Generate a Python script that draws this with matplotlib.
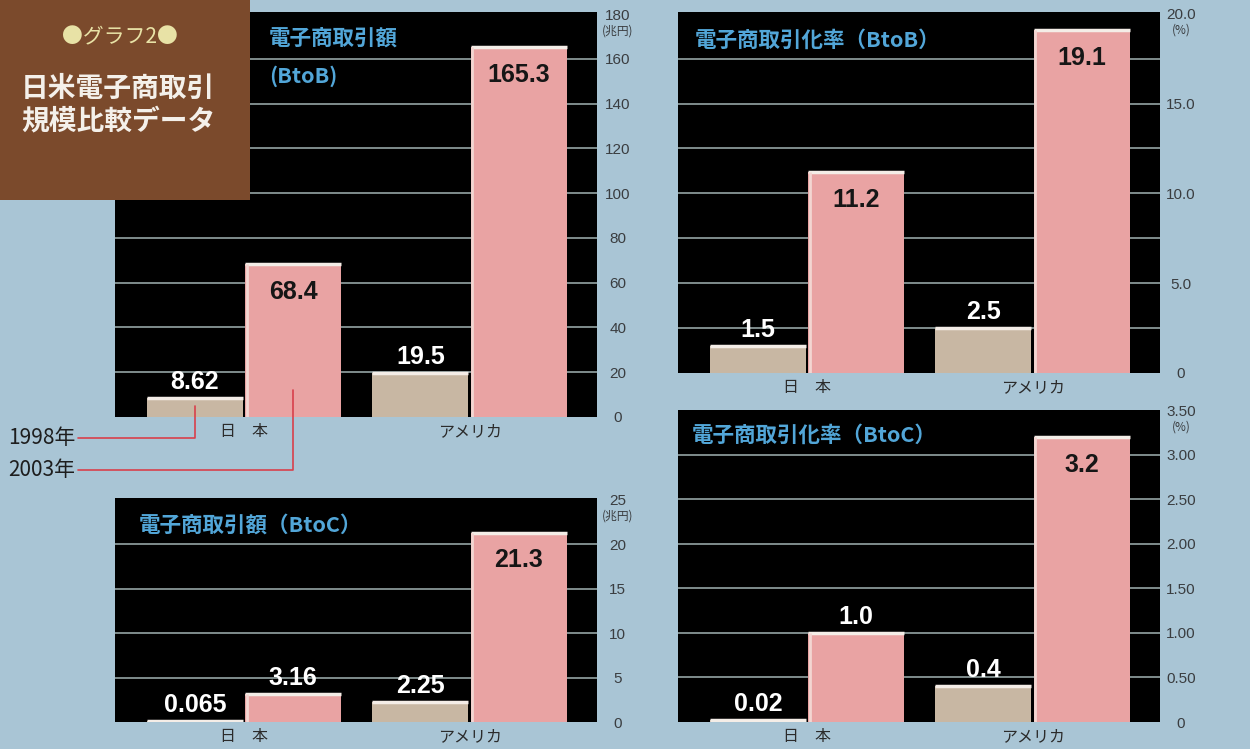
import matplotlib
matplotlib.use("Agg")
import matplotlib.pyplot as plt
from matplotlib.patches import Rectangle

plt.rcParams['font.family'] = ['Liberation Sans', 'Noto Sans CJK JP', 'DejaVu Sans']

# data
countries = ["日　本", "アメリカ"]
years = ["1998年", "2003年"]

btob_amount_1998 = [8.62, 19.5]      # 兆円
btob_amount_2003 = [68.4, 165.3]
btob_rate_1998 = [1.5, 2.5]          # %
btob_rate_2003 = [11.2, 19.1]
btoc_amount_1998 = [0.065, 2.25]     # 兆円
btoc_amount_2003 = [3.16, 21.3]
btoc_rate_1998 = [0.02, 0.4]         # %
btoc_rate_2003 = [1.0, 3.2]

btob_amount_ticks = [0, 20, 40, 60, 80, 100, 120, 140, 160, 180]
btob_rate_ticks = [0, 5, 10, 15, 20]
btob_rate_ticklabels = ["0", "5.0", "10.0", "15.0", "20.0"]
btoc_amount_ticks = [0, 5, 10, 15, 20, 25]
btoc_rate_ticks = [0, 0.5, 1.0, 1.5, 2.0, 2.5, 3.0, 3.5]
btoc_rate_ticklabels = ["0", "0.50", "1.00", "1.50", "2.00", "2.50", "3.00", "3.50"]

BG = '#a9c5d5'
TAN = '#c8b7a3'
PINK = '#e9a3a3'
TITLE_BLUE = '#52a6d8'
GRID = '#7f8c8c'
W, H = 1250, 749

fig = plt.figure(figsize=(W / 100, H / 100), dpi=100, facecolor=BG)


def panel(rect, v98, v03, ymax, ticks, ticklabels, grid, unit, title, title_xy):
    ax = fig.add_axes(rect)
    ax.set_facecolor('black')
    for s in ax.spines.values():
        s.set_visible(False)
    xlim = (-0.572, 1.565)
    ax.set_xlim(*xlim)
    ax.set_ylim(0, ymax)
    # grid lines
    ax.hlines(grid, xlim[0], xlim[1], color=GRID, lw=1.4, zorder=1)
    w, off = 0.425, 0.218
    x = [0, 1]
    x98 = [i - off for i in x]
    x03 = [i + off for i in x]
    ax.bar(x98, v98, width=w, color=TAN, zorder=2)
    ax.bar(x03, v03, width=w, color=PINK, zorder=2)
    # light top edges like the printed bars
    for xs, vs in ((x98, v98), (x03, v03)):
        for xi, vi in zip(xs, vs):
            ax.hlines(vi, xi - w / 2, xi + w / 2, color='#f4ede7', lw=2.5, zorder=3)
    for xi, vi in zip(x03, v03):
        ax.vlines(xi - w / 2 + 0.006, 0, vi, color='#f3d6d2', lw=2, zorder=3)
    # value labels
    for xs, vs in ((x98, v98), (x03, v03)):
        for xi, vi in zip(xs, vs):
            if vi / ymax > 0.33:
                ax.annotate(str(vi), (xi, vi), xytext=(0, -20), textcoords='offset points',
                            ha='center', va='center', fontsize=18, fontweight='bold',
                            color='#161616', zorder=4)
            else:
                ax.annotate(str(vi), (xi, vi), xytext=(0, 11.5), textcoords='offset points',
                            ha='center', va='center', fontsize=18, fontweight='bold',
                            color='white', zorder=4)
    # axes ticks
    ax.set_xticks(x, countries)
    ax.tick_params(axis='x', length=0, pad=5, labelsize=11.5, labelcolor='#2b2b2b')
    ax.yaxis.tick_right()
    ax.set_yticks(ticks, ticklabels)
    ax.tick_params(axis='y', length=0, pad=15, labelsize=11, labelcolor='#3a3d40')
    for lab in ax.get_yticklabels():
        lab.set_ha('center')
    ax.annotate(unit, (1, ticks[-1]), xycoords=ax.get_yaxis_transform(),
                xytext=(15, -12), textcoords='offset points', ha='center', va='center',
                fontsize=8.5, color='#3a3d40', family=['Noto Sans CJK JP'])
    ax.text(title_xy[0], title_xy[1], title, transform=ax.transAxes, ha='left', va='center',
            fontsize=15.5, fontweight='bold', color=TITLE_BLUE, family=['Noto Sans CJK JP'],
            linespacing=1.9)
    return ax


ax1 = panel([115 / W, 1 - 417 / H, 482 / W, 405 / H], btob_amount_1998, btob_amount_2003,
            181, btob_amount_ticks, [str(t) for t in btob_amount_ticks],
            btob_amount_ticks[1:-1], "(兆円)", "電子商取引額\n(BtoB)", (0.32, 0.888))
ax2 = panel([678 / W, 1 - 373 / H, 482 / W, 361 / H], btob_rate_1998, btob_rate_2003,
            20.1, btob_rate_ticks, btob_rate_ticklabels,
            [2.5, 5, 7.5, 10, 12.5, 15, 17.5], "(%)", "電子商取引化率（BtoB）", (0.035, 0.922))
ax3 = panel([115 / W, 1 - 722 / H, 482 / W, 224 / H], btoc_amount_1998, btoc_amount_2003,
            25.2, btoc_amount_ticks, [str(t) for t in btoc_amount_ticks],
            btoc_amount_ticks[1:-1], "(兆円)", "電子商取引額（BtoC）", (0.05, 0.88))
ax4 = panel([678 / W, 1 - 722 / H, 482 / W, 312 / H], btoc_rate_1998, btoc_rate_2003,
            3.5, btoc_rate_ticks, btoc_rate_ticklabels,
            btoc_rate_ticks[1:-1], "(%)", "電子商取引化率（BtoC）", (0.028, 0.92))

# year legend with red leader lines into the Japan bars
line_style = dict(arrowstyle='-', color='#d8404c', lw=1.2, shrinkA=0, shrinkB=0,
                  connectionstyle='angle,angleA=0,angleB=90,rad=0')
ax1.annotate(years[0], xy=(-0.218, 5), xytext=(8 / W, 1 - 438 / H),
             textcoords='figure fraction', ha='left', va='center', fontsize=15,
             color='#1e1e1e', family=['Noto Sans CJK JP'], arrowprops=line_style)
ax1.annotate(years[1], xy=(0.218, 12), xytext=(8 / W, 1 - 470 / H),
             textcoords='figure fraction', ha='left', va='center', fontsize=15,
             color='#1e1e1e', family=['Noto Sans CJK JP'], arrowprops=line_style)

# brown title box in the corner
fig.add_artist(Rectangle((0, 1 - 200 / H), 250 / W, 200 / H, transform=fig.transFigure,
                         facecolor='#7b4a2c', edgecolor='none', zorder=5))
fig.text(120 / W, 1 - 37 / H, "●グラフ2●", ha='center', va='center', fontsize=15,
         color='#e8e2a6', family=['Noto Sans CJK JP'], zorder=6)
fig.text(118 / W, 1 - 105 / H, "日米電子商取引\n規模比較データ", ha='center', va='center',
         fontsize=20, fontweight='bold', color='#f4f0ea', family=['Noto Sans CJK JP'],
         linespacing=1.2, zorder=6)

fig.savefig("out.png", dpi=100, facecolor=BG)
